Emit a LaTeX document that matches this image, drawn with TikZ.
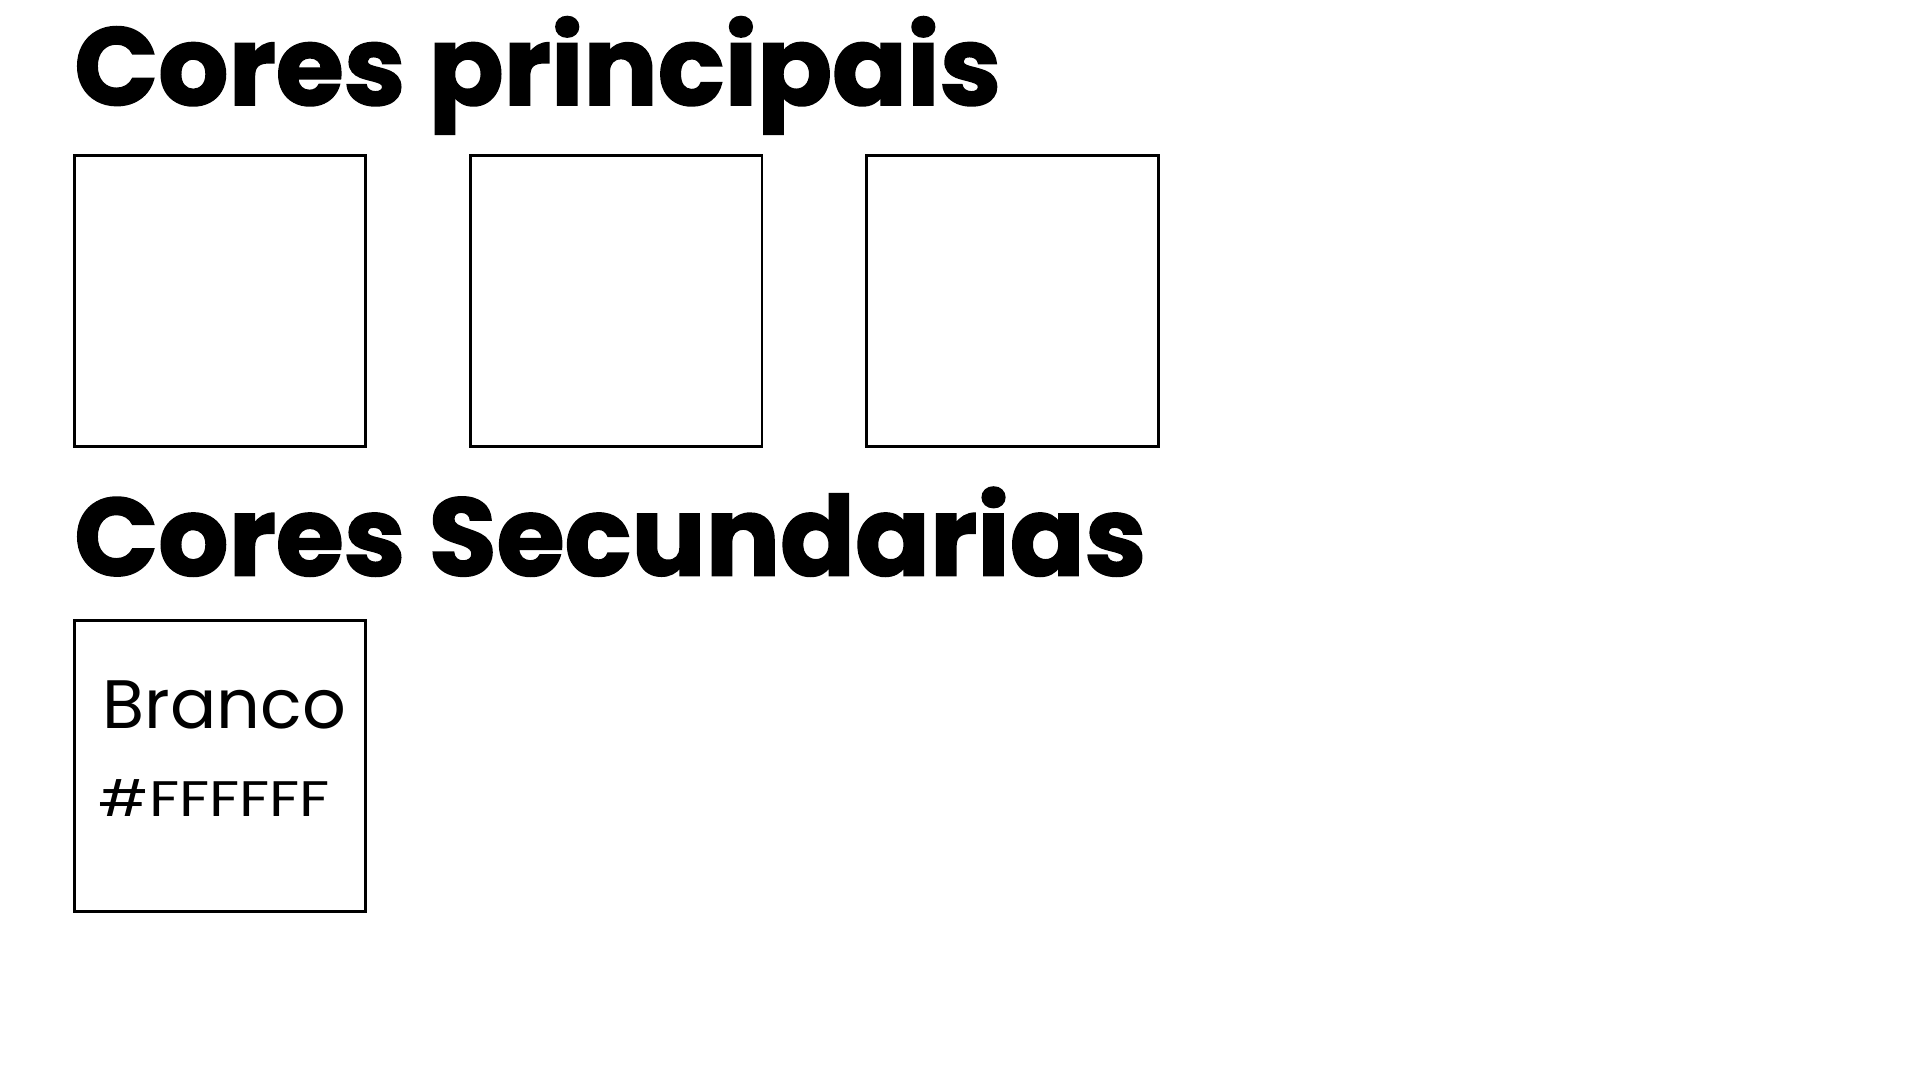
\documentclass[tikz,border=0pt]{standalone}
\usepackage{fontspec}
\setmainfont{Poppins}
\newfontfamily\headfont{Poppins}[BoldFeatures={FakeBold=1.6}]
\newfontfamily\codefont{Poppins}[FakeStretch=1.2]
\usepackage{tikz}
\usetikzlibrary{positioning}

\begin{document}
\begin{tikzpicture}[
    swatch/.style={draw=black, line width=0.77pt, fill=white, minimum size=2.915cm, inner sep=0pt},
    heading/.style={anchor=base west, inner sep=0pt, font=\headfont\fontsize{31.4}{36}\selectfont\bfseries},
    colorname/.style={anchor=base west, inner sep=0pt, font=\fontsize{19.5}{22}\selectfont},
    colorcode/.style={anchor=base west, inner sep=0pt, font=\codefont\fontsize{14.2}{17}\selectfont}
  ]
  \useasboundingbox[fill=white] (0,0) rectangle (19.2,10.8);

  % main colours
  \node[heading] (mainhead) at (0.735, 9.75) {Cores principais};
  \node[swatch] (main1) at (2.20, 7.79) {};
  \node[swatch, right=1.02cm of main1] (main2) {};
  \node[swatch, right=1.02cm of main2] (main3) {};

  % secondary colours
  \node[heading] (sechead) at (0.735, 5.045) {Cores Secundarias};
  \node[swatch] (sec1) at (2.20, 3.14) {};
  \node[colorname] (secname) at (1.02, 3.51) {Branco};
  \node[colorcode] (seccode) at (0.98, 2.63) {\#FFFFFF};

\end{tikzpicture}
\end{document}
